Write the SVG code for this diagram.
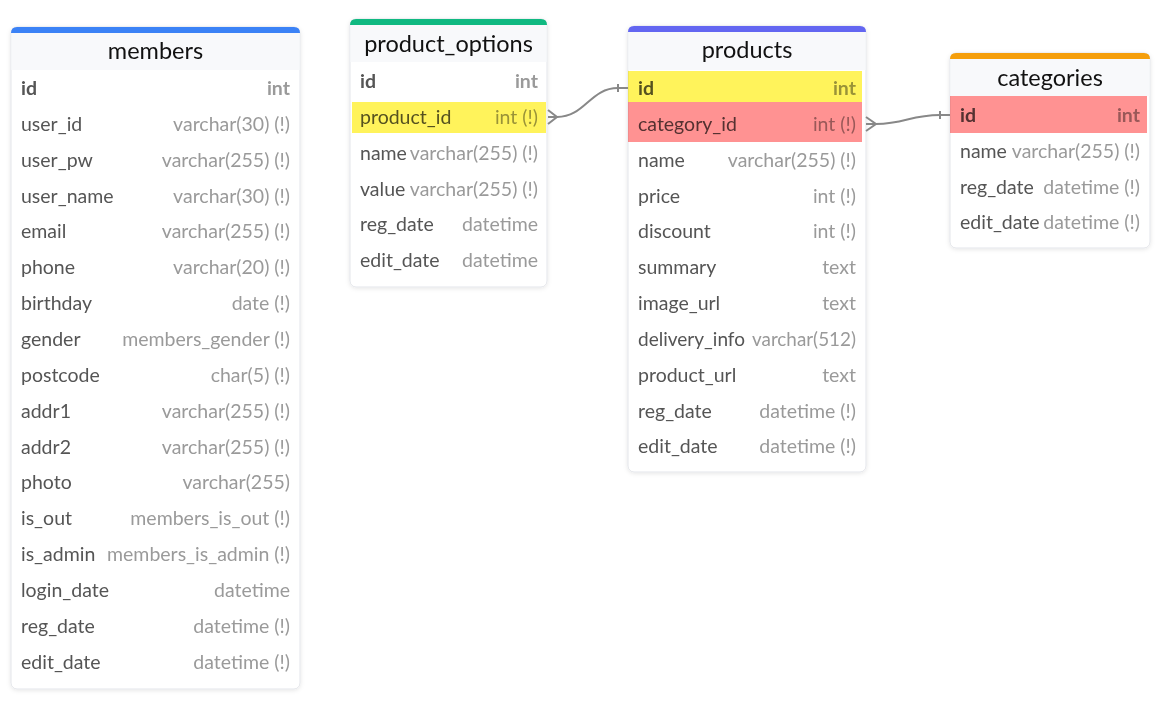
<svg xmlns="http://www.w3.org/2000/svg" width="1165" height="706" viewBox="0 0 1165 706">
<style>
.card{fill:#ffffff;stroke:#e3e5ea;stroke-width:1}
.hdr{fill:#f8f9fb}
.title{font-family:Lato,"Liberation Sans",sans-serif;font-size:23.5px;fill:#111111;text-anchor:middle;dominant-baseline:central}
.n{font-family:Lato,"Liberation Sans",sans-serif;font-size:19.5px;fill:#555555;dominant-baseline:central}
.t{font-family:Lato,"Liberation Sans",sans-serif;font-size:19.5px;fill:#9a9a9a;text-anchor:end;dominant-baseline:central}
.pk{font-weight:bold}
.hy{fill:#fff35b;mix-blend-mode:multiply}
.hr{fill:#ff9292;mix-blend-mode:multiply}
.conn{fill:none;stroke:#888888;stroke-width:2}
</style>
<defs>
<filter id="sh" x="-10%" y="-10%" width="120%" height="120%">
<feDropShadow dx="0" dy="1" stdDeviation="2" flood-color="#000000" flood-opacity="0.10"/>
</filter>
</defs>

<g id="members">
<rect class="card" x="11" y="27" width="289" height="662" rx="6" filter="url(#sh)"/>
<path class="hdr" d="M11.5 32 H299.5 V70 H11.5 Z"/>
<path d="M11 33 V33 Q11 27 17 27 H294 Q300 27 300 33 Z" fill="#3b82f6"/>
<g transform="translate(0,-1)">
<text class="title" x="155.5" y="51">members</text>
<text class="n pk" x="21" y="88">id</text><text class="t pk" x="290" y="88">int</text>
<text class="n" x="21" y="124">user_id</text><text class="t" x="290" y="124">varchar(30) (!)</text>
<text class="n" x="21" y="160">user_pw</text><text class="t" x="290" y="160">varchar(255) (!)</text>
<text class="n" x="21" y="196">user_name</text><text class="t" x="290" y="196">varchar(30) (!)</text>
<text class="n" x="21" y="231">email</text><text class="t" x="290" y="231">varchar(255) (!)</text>
<text class="n" x="21" y="267">phone</text><text class="t" x="290" y="267">varchar(20) (!)</text>
<text class="n" x="21" y="303">birthday</text><text class="t" x="290" y="303">date (!)</text>
<text class="n" x="21" y="339">gender</text><text class="t" x="290" y="339">members_gender (!)</text>
<text class="n" x="21" y="375">postcode</text><text class="t" x="290" y="375">char(5) (!)</text>
<text class="n" x="21" y="411">addr1</text><text class="t" x="290" y="411">varchar(255) (!)</text>
<text class="n" x="21" y="447">addr2</text><text class="t" x="290" y="447">varchar(255) (!)</text>
<text class="n" x="21" y="482">photo</text><text class="t" x="290" y="482">varchar(255)</text>
<text class="n" x="21" y="518">is_out</text><text class="t" x="290" y="518">members_is_out (!)</text>
<text class="n" x="21" y="554">is_admin</text><text class="t" x="290" y="554">members_is_admin (!)</text>
<text class="n" x="21" y="590">login_date</text><text class="t" x="290" y="590">datetime</text>
<text class="n" x="21" y="626">reg_date</text><text class="t" x="290" y="626">datetime (!)</text>
<text class="n" x="21" y="662">edit_date</text><text class="t" x="290" y="662">datetime (!)</text>
</g>
</g>

<g id="product_options">
<rect class="card" x="350" y="19" width="197" height="268" rx="6" filter="url(#sh)"/>
<path class="hdr" d="M350.5 24 H546.5 V62 H350.5 Z"/>
<path d="M350 25 Q350 19 356 19 H541 Q547 19 547 25 Z" fill="#10b981"/>
<g transform="translate(0,-1)">
<text class="title" x="448.5" y="44">product_options</text>
<text class="n pk" x="360" y="81">id</text><text class="t pk" x="538" y="81">int</text>
<text class="n" x="360" y="117">product_id</text><text class="t" x="538" y="117">int (!)</text>
</g>
<rect class="hy" x="352" y="102" width="194" height="31"/>
<g transform="translate(0,-1)">
<text class="n" x="360" y="153">name</text><text class="t" x="538" y="153">varchar(255) (!)</text>
<text class="n" x="360" y="189">value</text><text class="t" x="538" y="189">varchar(255) (!)</text>
<text class="n" x="360" y="224">reg_date</text><text class="t" x="538" y="224">datetime</text>
<text class="n" x="360" y="260">edit_date</text><text class="t" x="538" y="260">datetime</text>
</g>
</g>

<g id="products">
<rect class="card" x="628" y="26" width="238" height="446" rx="6" filter="url(#sh)"/>
<path class="hdr" d="M628.5 31 H865.5 V70 H628.5 Z"/>
<path d="M628 32 Q628 26 634 26 H860 Q866 26 866 32 Z" fill="#6366f1"/>
<g transform="translate(0,-1)">
<text class="title" x="747" y="50">products</text>
<text class="n pk" x="638" y="88">id</text><text class="t pk" x="856" y="88">int</text>
<text class="n" x="638" y="124">category_id</text><text class="t" x="856" y="124">int (!)</text>
</g>
<rect class="hy" x="628" y="71" width="234" height="31"/>
<rect class="hr" x="628" y="102" width="234" height="40"/>
<g transform="translate(0,-1)">
<text class="n" x="638" y="160">name</text><text class="t" x="856" y="160">varchar(255) (!)</text>
<text class="n" x="638" y="196">price</text><text class="t" x="856" y="196">int (!)</text>
<text class="n" x="638" y="231">discount</text><text class="t" x="856" y="231">int (!)</text>
<text class="n" x="638" y="267">summary</text><text class="t" x="856" y="267">text</text>
<text class="n" x="638" y="303">image_url</text><text class="t" x="856" y="303">text</text>
<text class="n" x="638" y="339" textLength="107" lengthAdjust="spacingAndGlyphs">delivery_info</text><text class="t" x="856" y="339" textLength="104" lengthAdjust="spacingAndGlyphs">varchar(512)</text>
<text class="n" x="638" y="375">product_url</text><text class="t" x="856" y="375">text</text>
<text class="n" x="638" y="411">reg_date</text><text class="t" x="856" y="411">datetime (!)</text>
<text class="n" x="638" y="446">edit_date</text><text class="t" x="856" y="446">datetime (!)</text>
</g>
</g>

<g id="categories">
<rect class="card" x="950" y="53" width="200" height="195" rx="6" filter="url(#sh)"/>
<path class="hdr" d="M950.5 58 H1149.5 V96 H950.5 Z"/>
<path d="M950 59 Q950 53 956 53 H1144 Q1150 53 1150 59 Z" fill="#f59e0b"/>
<g transform="translate(0,-1)">
<text class="title" x="1050" y="78">categories</text>
<text class="n pk" x="960" y="115">id</text><text class="t pk" x="1140" y="115">int</text>
</g>
<rect class="hr" x="950" y="96" width="197" height="37"/>
<g transform="translate(0,-1)">
<text class="n" x="960" y="151">name</text><text class="t" x="1140" y="151">varchar(255) (!)</text>
<text class="n" x="960" y="187">reg_date</text><text class="t" x="1140" y="187">datetime (!)</text>
<text class="n" x="960" y="222">edit_date</text><text class="t" x="1140" y="222">datetime (!)</text>
</g>
</g>

<g id="connectors">
<path class="conn" d="M548 117 L557 117 C585 117 590 88 618 88 L628 88"/>
<path class="conn" d="M548 110 L557 117 L548 124"/>
<path class="conn" d="M618 84 V92"/>
<path class="conn" d="M866 124 L876 124 C905 124 910 115 940 115 L950 115"/>
<path class="conn" d="M866 117 L876 124 L866 131"/>
<path class="conn" d="M940 111 V119"/>
</g>
</svg>
